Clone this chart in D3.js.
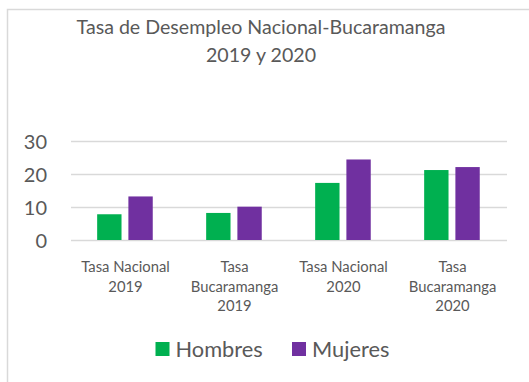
<!DOCTYPE html>
<html>
<head>
<meta charset="utf-8">
<script src="https://cdn.jsdelivr.net/npm/d3@7"></script>
<style>
  html, body { margin: 0; padding: 0; background: #fff; }
  svg { display: block; }
  text { font-family: Lato, "Open Sans", sans-serif; fill: #595959; }
</style>
</head>
<body>
<div id="chart"></div>
<script>
// Tasa de desempleo por sexo, nacional y Bucaramanga
const categories = ["Tasa Nacional 2019", "Tasa Bucaramanga 2019", "Tasa Nacional 2020", "Tasa Bucaramanga 2020"];
const categoryLines = [
  ["Tasa Nacional", "2019"],
  ["Tasa", "Bucaramanga", "2019"],
  ["Tasa Nacional", "2020"],
  ["Tasa", "Bucaramanga", "2020"]
];
const seriesNames = ["Hombres", "Mujeres"];
const hombres = [7.8, 8.2, 17.3, 21.2];
const mujeres = [13.2, 10.1, 24.4, 22.1];
const yTicks = [0, 10, 20, 30];
const titleLines = ["Tasa de Desempleo Nacional-Bucaramanga", "2019 y 2020"];
const colors = ["#00B050", "#7030A0"];

const W = 529, H = 382;
const svg = d3.select("#chart").append("svg").attr("width", W).attr("height", H);

// chart area frame
svg.append("rect")
  .attr("x", 7.5).attr("y", 9.5)
  .attr("width", W + 20).attr("height", H + 20)
  .attr("fill", "#fff").attr("stroke", "#D9D9D9").attr("stroke-width", 1.5);

// title
svg.append("g").selectAll("text").data(titleLines).join("text")
  .attr("x", 261).attr("y", (d, i) => 34 + i * 27.5)
  .attr("text-anchor", "middle")
  .style("font-size", "19.6px")
  .text(d => d);

const x0 = d3.scaleBand().domain(categories).range([71, 507]);
const b = x0.bandwidth();
const x1 = d3.scaleBand().domain(seriesNames).range([b * 0.24, b * 0.75]).paddingInner(0.22);
const y = d3.scaleLinear().domain([0, 30]).range([240, 141]);

// gridlines
svg.append("g").selectAll("line").data(yTicks).join("line")
  .attr("x1", 71).attr("x2", 507)
  .attr("y1", d => Math.round(y(d)) + 0.5).attr("y2", d => Math.round(y(d)) + 0.5)
  .attr("stroke", "#D9D9D9").attr("stroke-width", 1.3);

// y axis labels
const yAxis = d3.axisLeft(y).tickValues(yTicks).tickSize(0).tickPadding(0).tickFormat(d3.format("d"));
const gy = svg.append("g").attr("transform", "translate(47,0)").call(yAxis);
gy.select(".domain").remove();
gy.selectAll("text")
  .attr("dy", "0.35em")
  .style("font-size", "20px")
  .style("font-family", "Lato, 'Open Sans', sans-serif")
  .attr("fill", "#595959");

// bars
const data = categories.map((c, i) => ({ c, values: [hombres[i], mujeres[i]] }));
const groups = svg.append("g").selectAll("g").data(data).join("g")
  .attr("transform", d => `translate(${x0(d.c)},0)`);
groups.selectAll("rect").data(d => d.values.map((v, k) => ({ k, v }))).join("rect")
  .attr("x", d => x1(seriesNames[d.k]))
  .attr("width", x1.bandwidth())
  .attr("y", d => y(d.v))
  .attr("height", d => y(0) - y(d.v))
  .attr("fill", d => colors[d.k]);

// category labels
const xl = svg.append("g").selectAll("text").data(categories).join("text")
  .attr("x", d => x0(d) + b / 2)
  .attr("text-anchor", "middle")
  .style("font-size", "14.8px");
xl.each(function (d, i) {
  d3.select(this).selectAll("tspan").data(categoryLines[i]).join("tspan")
    .attr("x", x0(d) + b / 2)
    .attr("y", (t, j) => 272 + j * 19.5)
    .text(t => t);
});

// legend
const legendX = [155.5, 292];
const lg = svg.append("g").selectAll("g").data(seriesNames).join("g")
  .attr("transform", (d, i) => `translate(${legendX[i]},342)`);
lg.append("rect").attr("width", 14).attr("height", 14).attr("fill", (d, i) => colors[i]);
lg.append("text").attr("x", 20).attr("y", 14.5).style("font-size", "21.8px").text(d => d);
</script>
</body>
</html>
